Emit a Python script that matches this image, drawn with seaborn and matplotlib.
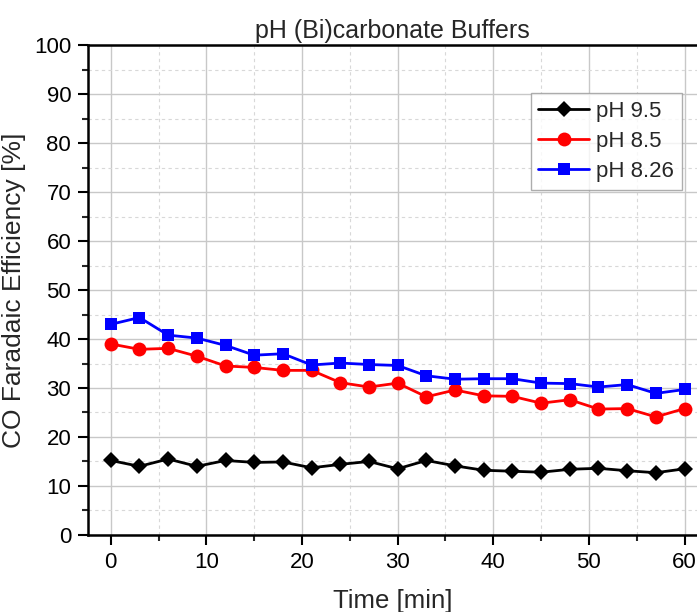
import pandas as pd
import seaborn as sns
import matplotlib.pyplot as plt
from matplotlib.ticker import MultipleLocator

time_min = [0, 3, 6, 9, 12, 15, 18, 21, 24, 27, 30, 33, 36, 39, 42, 45, 48, 51, 54, 57, 60]
ph_95 = [15.2, 14.0, 15.5, 14.0, 15.2, 14.8, 14.9, 13.7, 14.4, 15.0, 13.5,
         15.2, 14.1, 13.2, 13.0, 12.8, 13.4, 13.6, 13.1, 12.7, 13.5]
ph_85 = [39.0, 37.9, 38.1, 36.5, 34.5, 34.2, 33.6, 33.6, 31.1, 30.2, 31.0,
         28.2, 29.6, 28.4, 28.3, 26.9, 27.6, 25.7, 25.8, 24.1, 25.8]
ph_826 = [43.0, 44.4, 40.8, 40.2, 38.7, 36.7, 37.0, 34.7, 35.1, 34.8, 34.6,
          32.5, 31.8, 31.9, 31.9, 31.0, 30.9, 30.2, 30.7, 28.9, 29.7]
labels = ["pH 9.5", "pH 8.5", "pH 8.26"]

df = pd.concat([
    pd.DataFrame({"time": time_min, "fe": vals, "series": lab})
    for vals, lab in zip([ph_95, ph_85, ph_826], labels)
])

sns.set_style("white")
plt.rcParams['font.family'] = ['Liberation Sans', 'DejaVu Sans']

fig = plt.figure(figsize=(6.97, 6.12), dpi=100)
ax = fig.add_axes([0.126, 0.126, 0.874, 0.8])

palette = {"pH 9.5": "black", "pH 8.5": "#ff0000", "pH 8.26": "#0000ff"}
markers = {"pH 9.5": "D", "pH 8.5": "o", "pH 8.26": "s"}
sizes = {"pH 9.5": 8, "pH 8.5": 10, "pH 8.26": 9}

for lab in labels:
    sub = df[df["series"] == lab]
    sns.lineplot(data=sub, x="time", y="fe", color=palette[lab], marker=markers[lab],
                 markersize=sizes[lab], markeredgewidth=0, linewidth=2, label=lab,
                 ax=ax, zorder=3)

ax.set_xlim(-2.4, 61.3)
ax.set_ylim(0, 100)
ax.xaxis.set_major_locator(MultipleLocator(10))
ax.xaxis.set_minor_locator(MultipleLocator(5))
ax.yaxis.set_major_locator(MultipleLocator(10))
ax.yaxis.set_minor_locator(MultipleLocator(5))

ax.grid(which="major", color="#c8c8c8", linewidth=1.0, linestyle="-")
ax.grid(which="minor", color="#d8d8d8", linewidth=0.8, linestyle=(0, (3, 3)))
ax.set_axisbelow(True)

ax.tick_params(which="major", direction="out", length=7, width=1.5, labelsize=16,
               bottom=True, left=True, colors="black", pad=5)
ax.tick_params(which="minor", direction="out", length=4, width=1.5,
               bottom=True, left=True)

for side in ["left", "bottom", "top"]:
    ax.spines[side].set_color("black")
    ax.spines[side].set_linewidth(1.8)
ax.spines["right"].set_visible(False)

ax.set_title("pH (Bi)carbonate Buffers", fontsize=18, pad=5)
ax.set_xlabel("Time [min]", fontsize=18.5, labelpad=12)
ax.set_ylabel("CO Faradaic Efficiency [%]", fontsize=19, labelpad=6)

leg = ax.legend(loc="upper right", bbox_to_anchor=(0.975, 0.902), borderaxespad=0,
                fontsize=16, frameon=True, fancybox=False, edgecolor="#999999",
                handlelength=2.3, borderpad=0.35, labelspacing=0.4, handletextpad=0.3)
leg.get_frame().set_linewidth(1.0)

plt.savefig("out.png", dpi=100)
